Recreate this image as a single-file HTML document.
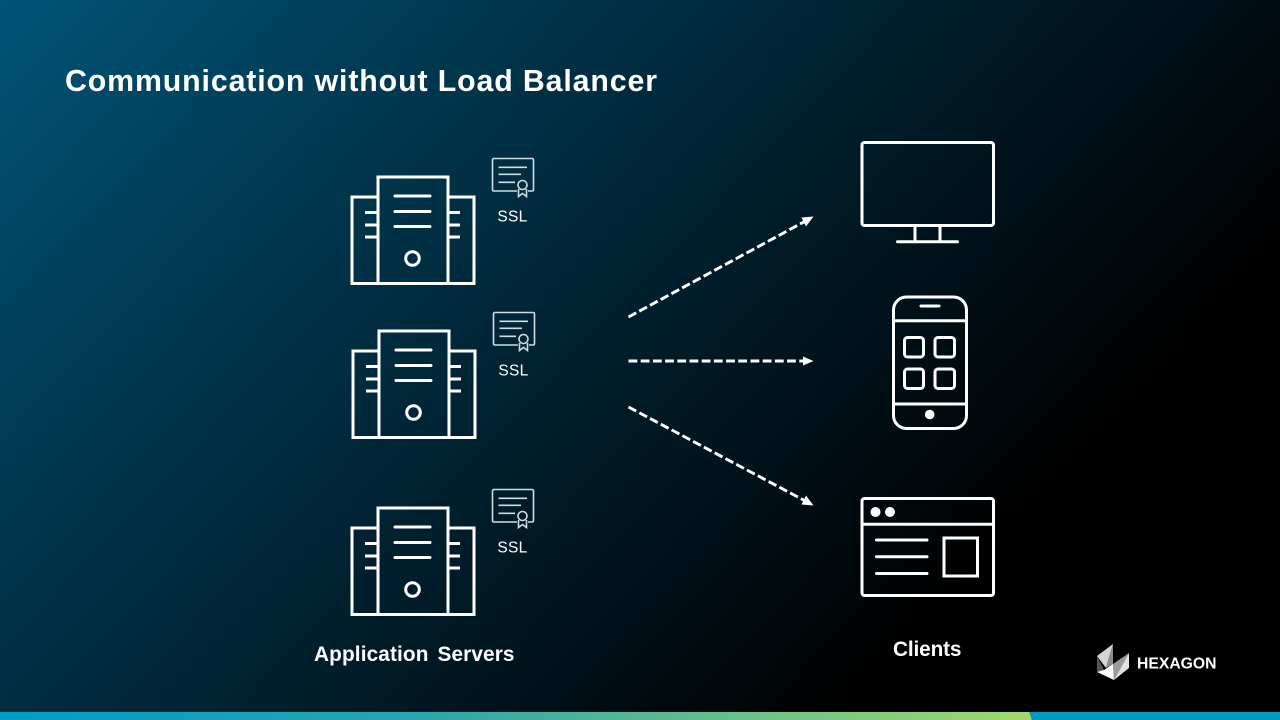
<!DOCTYPE html>
<html><head><meta charset="utf-8"><style>
html,body{margin:0;padding:0;background:#000}
svg{display:block}
text{font-family:"Liberation Sans",sans-serif;fill:#fff}
</style></head><body>
<svg width="1280" height="720" viewBox="0 0 1280 720" xmlns="http://www.w3.org/2000/svg">
<defs>
<linearGradient id="bg" gradientUnits="userSpaceOnUse" x1="0" y1="0" x2="800" y2="760">
<stop offset="0" stop-color="#005478"/><stop offset="0.33" stop-color="#00374e"/><stop offset="0.66" stop-color="#001b28"/><stop offset="1" stop-color="#000"/>
</linearGradient>
<linearGradient id="bar" x1="0" x2="1"><stop offset="0" stop-color="#009cc4"/><stop offset="0.4" stop-color="#27a6ae"/><stop offset="1" stop-color="#a2d86a"/></linearGradient>
<g id="srv" fill="none" stroke="#fff" stroke-width="3">
<path d="M378 197H352V283.500H474V197H448"/>
<rect x="378" y="177" width="70" height="106.500"/>
<path d="M395 196H430M395 211.500H430M395 226.500H430" stroke-linecap="round"/>
<path d="M365 212.500H378M365 225H378M365 237H378M448 212.500H460M448 225H460M448 237H460"/>
<circle cx="412.500" cy="258.500" r="6.800"/>
</g>
<g id="crt" fill="none" stroke="#cfdde3" stroke-width="1.600">
<path d="M517 191H494Q492.500 191 492.500 189.500V160Q492.500 158.500 494 158.500H532Q533.500 158.500 533.500 160V189.500Q533.500 191 532 191H528"/>
<path d="M498.500 167.300H527M498.500 174.300H521M498.500 182.300H515"/>
<circle cx="522.500" cy="185" r="4.500"/>
<path d="M518.500 189V196.500L522.500 193.500L526.500 196.500V189"/>
</g>
</defs>
<rect width="1280" height="720" fill="url(#bg)"/>
<text x="65" y="91" font-size="30.300" font-weight="700" textLength="592" lengthAdjust="spacing">Communication without Load Balancer</text>

<use href="#srv"/>
<use href="#srv" transform="translate(1 154)"/>
<use href="#srv" transform="translate(0 331)"/>
<use href="#crt"/>
<use href="#crt" transform="translate(1 154)"/>
<use href="#crt" transform="translate(0 331)"/>
<text x="512.500" y="221.500" font-size="15.500" text-anchor="middle" letter-spacing="0.300">SSL</text>
<text x="513.500" y="375.500" font-size="15.500" text-anchor="middle" letter-spacing="0.300">SSL</text>
<text x="512.500" y="552.500" font-size="15.500" text-anchor="middle" letter-spacing="0.300">SSL</text>

<g fill="none" stroke="#fff" stroke-width="2.900" stroke-dasharray="8.800 3.400">
<path d="M628.500 317L805 221.300"/>
<path d="M628.500 361H805"/>
<path d="M628.500 407L805 500.800"/>
</g>
<g fill="#fff">
<path d="M813.500 216.500L801.500 217.500L806 226.500Z"/>
<path d="M813.500 361L803 356.500V365.500Z"/>
<path d="M813.500 505.500L806 495.500L801.500 504.500Z"/>
</g>

<g fill="none" stroke="#fff" stroke-width="3">
<rect x="862" y="142.500" width="131.500" height="83" rx="2.500"/>
<path d="M915 226V241.500M940 226V241.500"/>
<path d="M897.500 241.700H957.500" stroke-linecap="round"/>

<rect x="893.500" y="297" width="73" height="131.500" rx="13"/>
<path d="M893.500 320.700H966.500M893.500 404H966.500"/>
<path d="M921 306H939" stroke-linecap="round"/>
<rect x="904.500" y="337.500" width="19" height="19.500" rx="3"/>
<rect x="935" y="337.500" width="19.500" height="19.500" rx="3"/>
<rect x="904.500" y="369" width="19" height="19.500" rx="3"/>
<rect x="935" y="369" width="19.500" height="19.500" rx="3"/>

<rect x="862" y="498.500" width="131.500" height="97" rx="2.500"/>
<path d="M862 524.300H993.500"/>
<path d="M876.500 540H927M876.500 556.700H927M876.500 573.500H927" stroke-linecap="round"/>
<rect x="944" y="538" width="33.500" height="38"/>
</g>
<g fill="#fff">
<circle cx="929.700" cy="414.500" r="4.800"/>
<circle cx="875.500" cy="512" r="5"/>
<circle cx="890" cy="512" r="5"/>
</g>

<text x="314" y="661" font-size="20.800" font-weight="700" textLength="200.500" lengthAdjust="spacing" word-spacing="3">Application Servers</text>
<text x="893" y="656" font-size="20.800" font-weight="700" textLength="68.500" lengthAdjust="spacing">Clients</text>

<g>
<polygon points="1097,656 1113,644 1106,668" fill="#d6d6d6"/>
<polygon points="1113,644 1113,664 1106,668" fill="#8c8c8c"/>
<polygon points="1097,656 1104,670 1097,672" fill="#555"/>
<polygon points="1104,670 1113,664 1114,680 1097,672" fill="#fff"/>
<polygon points="1113,664 1129,653 1114,680" fill="#9a9a9a"/>
<polygon points="1129,653 1129,668 1114,680" fill="#e0e0e0"/>
</g>
<text x="1137" y="668.500" font-size="16" font-weight="700" textLength="79.500" lengthAdjust="spacingAndGlyphs">HEXAGON</text>

<polygon points="0,712 1029.500,712 1032,720 0,720" fill="url(#bar)"/>
<polygon points="1029.500,712 1280,712 1280,720 1032,720" fill="#009bc3"/>
</svg>
</body></html>
